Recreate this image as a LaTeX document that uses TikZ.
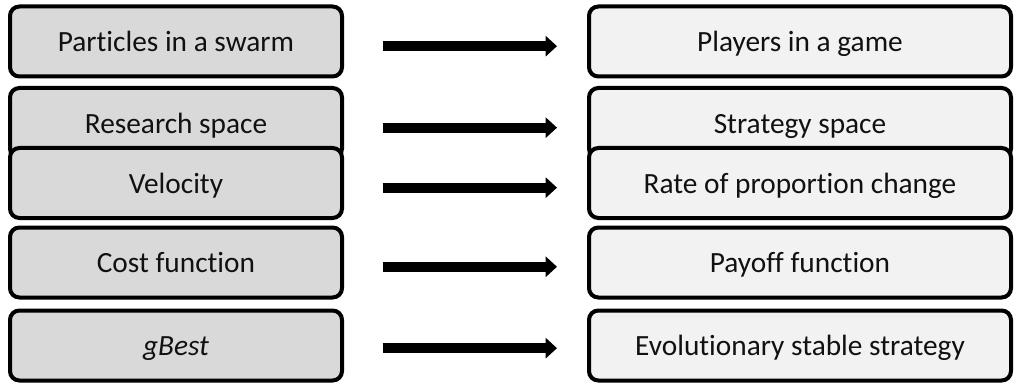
\documentclass[tikz,border=0pt]{standalone}
\usepackage{fontspec}
\setmainfont[Ligatures={NoCommon}]{Carlito}
\usetikzlibrary{arrows.meta}
\definecolor{lfill}{HTML}{D9D9D9}
\definecolor{rfill}{HTML}{F2F2F2}
\definecolor{txt}{HTML}{111111}
\tikzset{
  box/.style={draw=black, line width=3pt, rounded corners=7pt, minimum height=52.5pt, inner sep=0pt, text=txt, text height=19pt, text depth=4pt, font=\fontsize{22}{26}\selectfont},
  lbox/.style={box, fill=lfill, minimum width=249pt},
  rbox/.style={box, fill=rfill, minimum width=316.5pt},
  arr/.style={line width=7.5pt, -{Triangle[length=8.5pt,width=15pt]}, shorten <=29pt, shorten >=22.5pt}
}
\begin{document}
\begin{tikzpicture}[x=0.75pt,y=-0.75pt]
\useasboundingbox (0,0) rectangle (1015,385);
\node[lbox] (l1) at (176,41.5) {Particles in a swarm};
\node[rbox] (r1) at (800,41.5) {Players in a game};
\node[lbox] (l2) at (176,123) {Research space};
\node[rbox] (r2) at (800,123) {Strategy space};
\node[lbox] (l3) at (176,183) {Velocity};
\node[rbox] (r3) at (800,183) {Rate of proportion change};
\node[lbox] (l4) at (176,262.5) {Cost function};
\node[rbox] (r4) at (800,262.5) {Payoff function};
\node[lbox] (l5) at (176,345.5) {\itshape gBest};
\node[rbox] (r5) at (800,345.5) {Evolutionary stable strategy};
\draw[arr] ([yshift=-3.5pt]l1.east) -- ([yshift=-3.5pt]r1.west);
\draw[arr] ([yshift=-3.5pt]l2.east) -- ([yshift=-3.5pt]r2.west);
\draw[arr] ([yshift=-3.5pt]l3.east) -- ([yshift=-3.5pt]r3.west);
\draw[arr] ([yshift=-3.2pt]l4.east) -- ([yshift=-3.2pt]r4.west);
\draw[arr] ([yshift=-2pt]l5.east) -- ([yshift=-2pt]r5.west);
\end{tikzpicture}
\end{document}
